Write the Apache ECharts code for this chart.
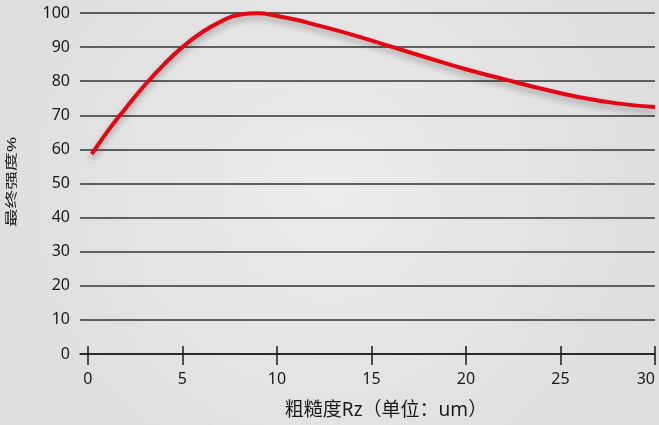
<!DOCTYPE html>
<html>
<head>
<meta charset="utf-8">
<script src="https://cdn.jsdelivr.net/npm/echarts@6/dist/echarts.min.js"></script>
<style>
html,body{margin:0;padding:0;}
#c{width:659px;height:425px;}
</style>
</head>
<body>
<div id="c"></div>
<script>
const roughness = [0.2, 1, 2, 3, 4, 5, 6, 7, 8, 9, 10, 11, 12, 14, 16, 18, 20, 22, 24, 26, 28, 30];
const strength  = [58.6, 65, 72.1, 78.8, 84.8, 90, 94.2, 97.4, 99.5, 99.9, 99.1, 98, 96.6, 93.6, 90.2, 86.8, 83.5, 80.6, 77.8, 75.3, 73.5, 72.4];
const xTicks = [0, 5, 10, 15, 20, 25, 30];
const xTitle = '粗糙度Rz（单位：um）';
const yTitle = '最终强度%';

const chart = echarts.init(document.getElementById('c'), null, {renderer: 'canvas'});
const font = "'Noto Sans', 'Noto Sans CJK SC', sans-serif";
chart.setOption({
  backgroundColor: {
    type: 'radial', x: 0.5, y: 0.45, r: 0.8,
    colorStops: [{offset: 0, color: '#ebebeb'}, {offset: 1, color: '#dedede'}]
  },
  animation: false,
  grid: {left: 80, right: 4, top: 13, bottom: 71, outerBoundsMode: 'none', containLabel: false},
  graphic: [{
    type: 'text', x: 386, y: 411,
    style: {text: xTitle, fontSize: 19, fill: '#1a1a1a', fontFamily: font, align: 'center', verticalAlign: 'middle'}
  }, {
    type: 'text', x: 12, y: 182, rotation: Math.PI / 2, scaleX: 1.5,
    style: {text: yTitle, fontSize: 12.5, fill: '#1a1a1a', fontFamily: font, align: 'center', verticalAlign: 'middle'}
  }],
  xAxis: [{
    type: 'value', min: -0.42, max: 30,
    axisLine: {show: true, lineStyle: {color: '#1a1a1a', width: 1.5}},
    axisTick: {show: true, length: 11, customValues: xTicks, lineStyle: {color: '#1a1a1a', width: 1.5}},
    axisLabel: {customValues: xTicks, margin: 17, fontSize: 16, color: '#1a1a1a', fontFamily: font, alignMaxLabel: 'right'},
    splitLine: {show: false}
  }, {
    type: 'value', min: -0.42, max: 30, position: 'bottom',
    axisLine: {show: false},
    axisTick: {show: true, inside: true, length: 8, customValues: xTicks, lineStyle: {color: '#1a1a1a', width: 1.5}},
    axisLabel: {show: false},
    splitLine: {show: false}
  }],
  yAxis: {
    type: 'value', min: 0, max: 100, interval: 10,
    axisLine: {show: false}, axisTick: {show: false},
    axisLabel: {margin: 10, fontSize: 16, color: '#1a1a1a', fontFamily: font},
    splitLine: {show: true, lineStyle: {color: '#333', width: 1.5}}
  },
  series: [{
    type: 'line', smooth: 0.5, showSymbol: false, xAxisIndex: 0,
    data: roughness.map((x, i) => [x, strength[i]]),
    lineStyle: {color: '#e30613', width: 4, shadowColor: 'rgba(0,0,0,0.3)', shadowBlur: 6, shadowOffsetY: 4, cap: 'butt'}
  }]
});
</script>
</body>
</html>
